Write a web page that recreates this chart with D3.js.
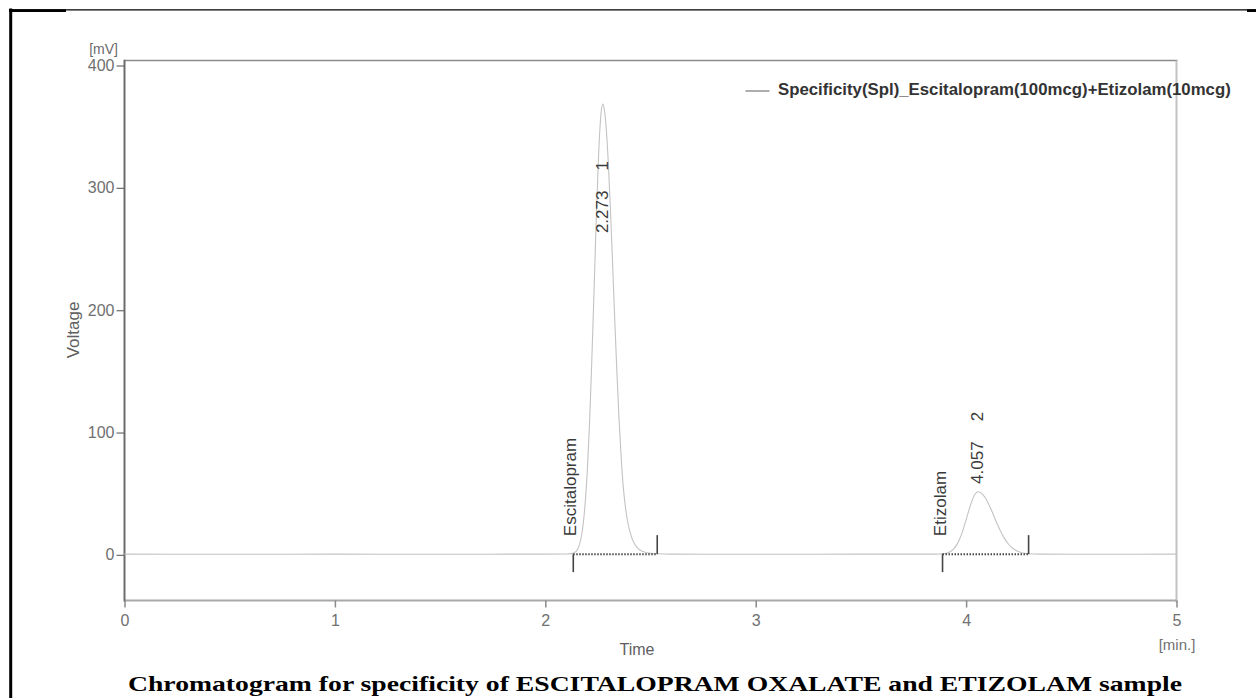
<!DOCTYPE html>
<html>
<head>
<meta charset="utf-8">
<script src="https://cdn.jsdelivr.net/npm/d3@7"></script>
<style>
  html, body { margin: 0; padding: 0; background: #fff; }
  svg { display: block; }
</style>
</head>
<body>
<svg id="chart" width="1256" height="698"></svg>
<script>
// ---- Detector trace (time in min, signal in mV) ----
const traceTime = [
  0.00, 0.50, 1.00, 1.50, 1.90, 2.10, 2.13, 2.14, 2.15, 2.16,
  2.17, 2.18, 2.19, 2.20, 2.21, 2.22, 2.23, 2.24, 2.25, 2.26,
  2.265, 2.273, 2.28, 2.29, 2.30, 2.31, 2.32, 2.33, 2.34, 2.35,
  2.36, 2.37, 2.38, 2.39, 2.40, 2.41, 2.42, 2.43, 2.44, 2.45,
  2.47, 2.50, 2.53, 2.60, 3.00, 3.50, 3.85, 3.90, 3.92, 3.94,
  3.96, 3.98, 4.00, 4.02, 4.04, 4.057, 4.08, 4.10, 4.12, 4.14,
  4.16, 4.18, 4.20, 4.22, 4.24, 4.26, 4.28, 4.30, 4.35, 4.70,
  5.00
];
const traceVoltage = [
  0.6, 0.5, 0.6, 0.5, 0.6, 0.7, 1.2, 2.0, 3.6, 7.2,
  13.8, 25.2, 43.3, 70.1, 106.6, 153.5, 206.6, 262.6, 312.6, 349.6,
  361.0, 368.5, 364.6, 347.6, 318.6, 280.6, 237.6, 192.6, 150.6, 112.6,
  81.6, 56.6, 40.2, 28.5, 20.4, 14.5, 10.4, 7.5, 5.4, 4.0,
  2.4, 1.3, 0.9, 0.6, 0.5, 0.6, 0.6, 1.1, 2.2, 4.7,
  9.6, 17.6, 28.6, 40.2, 49.0, 51.6, 49.3, 44.0, 36.6, 28.5,
  20.7, 14.1, 9.1, 5.6, 3.3, 2.0, 1.3, 0.9, 0.6, 0.5,
  0.6
];

// ---- Integrated peaks ----
const peakNames = ["Escitalopram", "Etizolam"];
const peakNumbers = ["1", "2"];
const peakRetention = [2.273, 4.057];
const peakStart = [2.133, 3.888];
const peakEnd = [2.532, 4.297];
const peakBaseline = [0.6, 0.6];

// ---- Axes and text ----
const timeTicks = [0, 1, 2, 3, 4, 5];
const voltageTicks = [0, 100, 200, 300, 400];
const legendLabel = "Specificity(Spl)_Escitalopram(100mcg)+Etizolam(10mcg)";
const captionText = "Chromatogram for specificity of ESCITALOPRAM OXALATE and ETIZOLAM sample";

// ---- Layout ----
const plot = { left: 124.5, right: 1176.5, top: 60.5, bottom: 600.5 };
const sans = "'Liberation Sans', Arial, sans-serif";
const serif = "'Liberation Serif', 'Times New Roman', serif";
// signal level (mV) where each retention-time label begins
const rtLabelLevel = [263, 58];

const svg = d3.select("#chart");

const x = d3.scaleLinear().domain([0, 5]).range([plot.left, plot.right]);
const y = d3.scaleLinear().domain([-37.3, 404.1]).range([plot.bottom, plot.top]);

// outer page frame
const frame = svg.append("g").attr("stroke", "#000");
frame.append("line").attr("x1", 10.7).attr("x2", 10.7).attr("y1", 8.5).attr("y2", 698).attr("stroke-width", 3);
frame.append("line").attr("x1", 9).attr("x2", 1256).attr("y1", 9.8).attr("y2", 9.8).attr("stroke-width", 1.3);
frame.append("line").attr("x1", 9).attr("x2", 66).attr("y1", 10.6).attr("y2", 10.6).attr("stroke-width", 2.8);
frame.append("line").attr("x1", 1247).attr("x2", 1256).attr("y1", 10.6).attr("y2", 10.6).attr("stroke-width", 2.8);

// plot box
svg.append("line").attr("x1", plot.left).attr("x2", plot.right + 1).attr("y1", plot.top).attr("y2", plot.top)
  .attr("stroke", "#8c8c8c").attr("stroke-width", 1.6);
svg.append("line").attr("x1", plot.right).attr("x2", plot.right).attr("y1", plot.top).attr("y2", plot.bottom + 2)
  .attr("stroke", "#c2c2c2").attr("stroke-width", 2);
svg.append("line").attr("x1", plot.left).attr("x2", plot.right).attr("y1", plot.bottom).attr("y2", plot.bottom)
  .attr("stroke", "#a8a8a8").attr("stroke-width", 2);

// y axis
const yAxis = svg.append("g")
  .attr("transform", `translate(${plot.left},0)`)
  .call(d3.axisLeft(y).tickValues(voltageTicks).tickFormat(d3.format("d"))
    .tickSize(8).tickPadding(2).tickSizeOuter(0));
yAxis.select(".domain").remove();
yAxis.selectAll(".tick line").attr("stroke", "#777").attr("stroke-width", 1.3);
yAxis.selectAll(".tick text").attr("fill", "#707070").style("font-family", sans).style("font-size", "16px");
svg.append("line").attr("x1", plot.left).attr("x2", plot.left).attr("y1", plot.top - 0.8).attr("y2", plot.bottom + 1)
  .attr("stroke", "#6c6c6c").attr("stroke-width", 2);

// x axis
const xAxis = svg.append("g")
  .attr("transform", `translate(0,${plot.bottom})`)
  .call(d3.axisBottom(x).tickValues(timeTicks).tickFormat(d3.format("d"))
    .tickSize(7).tickPadding(7).tickSizeOuter(0));
xAxis.select(".domain").remove();
xAxis.selectAll(".tick line").attr("stroke", "#8a8a8a").attr("stroke-width", 1.5);
xAxis.selectAll(".tick text").attr("fill", "#707070").style("font-family", sans).style("font-size", "16px");

// axis titles and units
svg.append("text").attr("x", 118).attr("y", 54).attr("text-anchor", "end")
  .attr("fill", "#6a6a6a").style("font-family", sans).style("font-size", "14px").text("[mV]");
svg.append("text").attr("x", 1177).attr("y", 650).attr("text-anchor", "middle")
  .attr("fill", "#707070").style("font-family", sans).style("font-size", "15px").text("[min.]");
svg.append("text").attr("x", 637).attr("y", 655).attr("text-anchor", "middle")
  .attr("fill", "#606060").style("font-family", sans).style("font-size", "16px").text("Time");
svg.append("text").attr("transform", "translate(79,330) rotate(-90)").attr("text-anchor", "middle")
  .attr("fill", "#606060").style("font-family", sans).style("font-size", "17px").text("Voltage");

// detector trace
const trace = traceTime.map((t, i) => ({ t, v: traceVoltage[i] }));
svg.append("path")
  .datum(trace)
  .attr("fill", "none")
  .attr("stroke", "#c3c3c3")
  .attr("stroke-width", 1.1)
  .attr("d", d3.line().x(d => x(d.t)).y(d => y(d.v)).curve(d3.curveMonotoneX));

// integration baselines and peak delimiters
const peaks = peakNames.map((name, i) => ({
  name, num: peakNumbers[i], rt: peakRetention[i],
  start: peakStart[i], end: peakEnd[i], base: peakBaseline[i],
  labelLevel: rtLabelLevel[i]
}));

const pg = svg.append("g");
peaks.forEach(p => {
  const yb = y(p.base);
  pg.append("line").attr("x1", x(p.start)).attr("x2", x(p.end)).attr("y1", yb).attr("y2", yb)
    .attr("stroke", "#3c3c3c").attr("stroke-width", 2).attr("stroke-dasharray", "1.4,1.6");
  pg.append("line").attr("x1", x(p.start)).attr("x2", x(p.start)).attr("y1", yb).attr("y2", yb + 18)
    .attr("stroke", "#444").attr("stroke-width", 1.6);
  pg.append("line").attr("x1", x(p.end)).attr("x2", x(p.end)).attr("y1", yb - 19).attr("y2", yb)
    .attr("stroke", "#444").attr("stroke-width", 1.6);

  // compound name beside the start marker
  pg.append("text")
    .attr("transform", `translate(${x(p.start) + 3},${yb - 18}) rotate(-90)`)
    .attr("fill", "#3a3a3a").style("font-family", sans).style("font-size", "17px")
    .text(p.name);

  // retention time and peak number on the peak
  const xl = x(p.rt) + 5;
  const y0 = y(p.labelLevel);
  const rtText = pg.append("text")
    .attr("transform", `translate(${xl},${y0}) rotate(-90)`)
    .attr("fill", "#3a3a3a").style("font-family", sans).style("font-size", "17px")
    .text(p.rt.toFixed(3));
  const len = rtText.node().getComputedTextLength();
  pg.append("text")
    .attr("transform", `translate(${xl},${y0 - len - 20}) rotate(-90)`)
    .attr("fill", "#3a3a3a").style("font-family", sans).style("font-size", "17px")
    .text(p.num);
});

// legend
svg.append("line").attr("x1", 745.5).attr("x2", 769.5).attr("y1", 91).attr("y2", 91)
  .attr("stroke", "#777").attr("stroke-width", 1.2);
svg.append("text").attr("x", 778).attr("y", 94.5)
  .attr("fill", "#333").style("font-family", sans).style("font-size", "16.8px").style("font-weight", "bold")
  .text(legendLabel);

// caption
svg.append("text").attr("x", 128).attr("y", 690.5)
  .attr("textLength", 1054).attr("lengthAdjust", "spacingAndGlyphs")
  .attr("fill", "#000").style("font-family", serif).style("font-size", "22px").style("font-weight", "bold")
  .text(captionText);
</script>
</body>
</html>
